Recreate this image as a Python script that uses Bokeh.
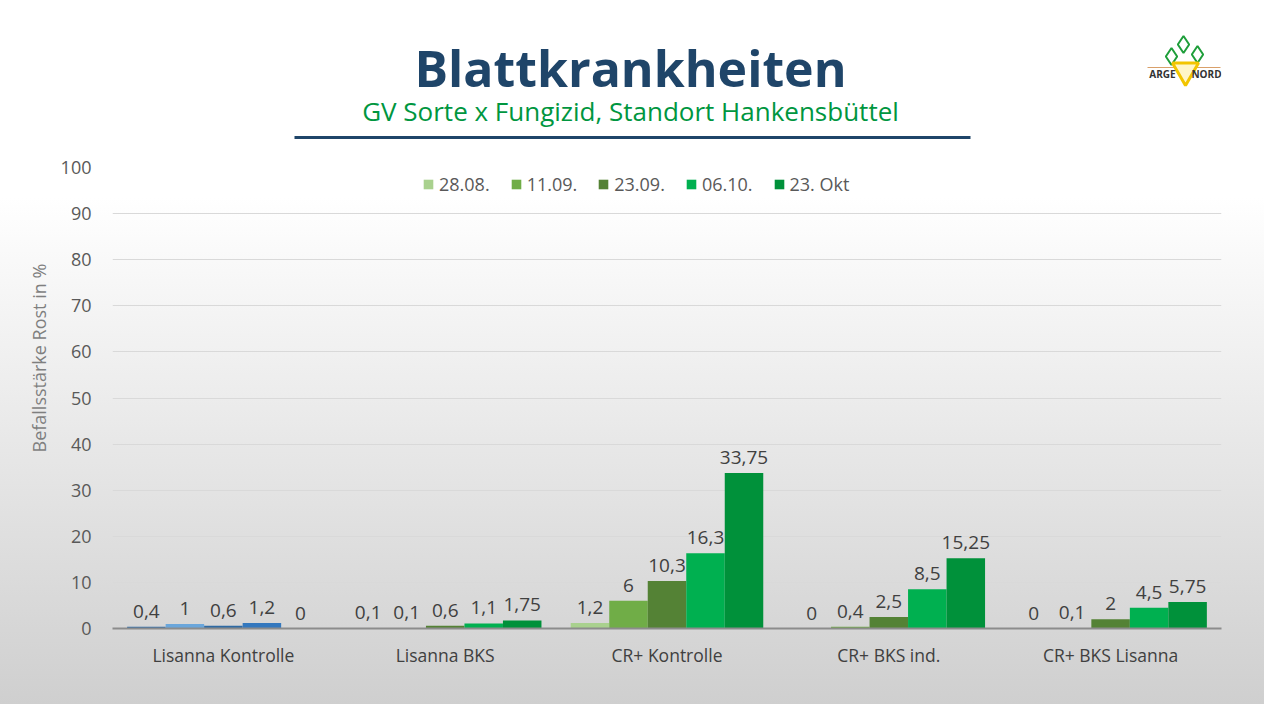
from bokeh.plotting import figure
from bokeh.layouts import column
from bokeh.models import (ColumnDataSource, FactorRange, Range1d, Legend, LegendItem,
                          SingleIntervalTicker, Title)
from bokeh.core.properties import value
from bokeh.transform import dodge
from bokeh.embed import file_html
from bokeh.resources import INLINE

# data
categories = ["Lisanna Kontrolle", "Lisanna BKS", "CR+ Kontrolle", "CR+ BKS ind.", "CR+ BKS Lisanna"]
dates = ["28.08.", "11.09.", "23.09.", "06.10.", "23. Okt"]
d_2808 = [0.4, 0.1, 1.2, 0, 0]
d_1109 = [1, 0.1, 6, 0.4, 0.1]
d_2309 = [0.6, 0.6, 10.3, 2.5, 2]
d_0610 = [1.2, 1.1, 16.3, 8.5, 4.5]
d_2310 = [0, 1.75, 33.75, 15.25, 5.75]
series = [d_2808, d_1109, d_2309, d_0610, d_2310]

title = "Blattkrankheiten"
subtitle = "GV Sorte x Fungizid, Standort Hankensbüttel"
y_label = "Befallsstärke Rost in %"

greens = ["#A9D18E", "#70AD47", "#548235", "#00B050", "#00913A"]
blues = ["#2E6DAA", "#6AA6DB", "#2F6AA3", "#3478BE", "#3478BE"]

FONT = "Open Sans"
W, H = 1264, 704
HEAD = 150
BL, BR = 112, 43   # left / right border of the plot frame


def clear(fig):
    fig.border_fill_alpha = 0
    fig.background_fill_alpha = 0
    fig.outline_line_color = None


# header: title, subtitle, rule and logo (coordinates = pixels from top-left of page)
head = figure(width=W, height=HEAD, x_range=Range1d(BL, W - BR), y_range=Range1d(HEAD, 0),
              min_border_left=BL, min_border_right=BR, min_border_top=0, min_border_bottom=0,
              output_backend="svg", toolbar_location=None)
clear(head)
head.axis.visible = False
head.grid.visible = False
head.text(x=[630], y=[67], text=[title], text_align="center", text_baseline="middle",
          text_font=value(FONT), text_font_size="50px", text_font_style="bold",
          text_color="#1F4569")
head.text(x=[630], y=[110], text=[subtitle], text_align="center", text_baseline="middle",
          text_font=value(FONT), text_font_size="26px", text_color="#00963F")
head.segment(x0=[294], y0=[137], x1=[970], y1=[137], line_color="#1F4569", line_width=3)
# logo
head.segment(x0=[1147], y0=[67], x1=[1220], y1=[67], line_color="#D9A06A", line_width=1)
head.scatter(x=[1171, 1183, 1197], y=[56, 44, 54], marker="diamond", size=17,
             fill_color=None, line_color="#1E9E3A", line_width=2)
head.scatter(x=[1185], y=[70], marker="inverted_triangle", size=26,
             fill_color="#FFF6C8", line_color="#F2C500", line_width=3)
head.text(x=[1162, 1206], y=[73, 73], text=["ARGE", "NORD"], text_align="center",
          text_baseline="middle", text_font=value(FONT), text_font_size="10px",
          text_font_style="bold", text_color="#333333")

# main chart
p = figure(x_range=FactorRange(factors=categories), y_range=Range1d(0, 100),
           width=W, height=H - HEAD, min_border_left=BL, min_border_right=BR,
           min_border_top=17, min_border_bottom=76,
           output_backend="svg", toolbar_location=None)
clear(p)

p.yaxis.ticker = SingleIntervalTicker(interval=10)
p.yaxis.axis_line_color = None
p.yaxis.major_tick_line_color = None
p.yaxis.minor_tick_line_color = None
p.yaxis.major_label_text_font = FONT
p.yaxis.major_label_text_font_size = "18px"
p.yaxis.major_label_text_color = "#595959"
p.yaxis.major_label_standoff = 15

p.add_layout(Title(text=y_label, align="left", offset=176, standoff=14,
                   text_font=FONT, text_font_style="normal", text_font_size="18px",
                   text_color="#7F7F7F"), "left")

p.xaxis.axis_line_color = "#8C8C8C"
p.xaxis.axis_line_width = 2
p.xaxis.major_tick_line_color = None
p.xaxis.minor_tick_line_color = None
p.xaxis.major_label_text_font = FONT
p.xaxis.major_label_text_font_size = "17.5px"
p.xaxis.major_label_text_color = "#404040"
p.xaxis.major_label_standoff = 8

p.xgrid.grid_line_color = None
p.ygrid.grid_line_color = "#D9D9D9"

bw = 0.1736
items = []
for j, (name, vals) in enumerate(zip(dates, series)):
    colors = [blues[j]] + [greens[j]] * (len(categories) - 1)
    labels = [f"{v:g}".replace(".", ",") for v in vals]
    src = ColumnDataSource(dict(cat=categories, val=vals, color=colors, lab=labels))
    off = (j - 2) * bw
    r = p.vbar(x=dodge("cat", off, range=p.x_range), top="val", width=bw,
               fill_color="color", line_color=None, source=src)
    p.text(x=dodge("cat", off, range=p.x_range), y="val", text="lab", source=src,
           text_align="center", text_baseline="bottom", y_offset=-9,
           text_font=value(FONT), text_font_size="19px", text_color="#404040")
    items.append(LegendItem(label=name, renderers=[r], index=1))

legend = Legend(items=items, location=(308, 430), orientation="horizontal",
                background_fill_alpha=0, border_line_alpha=0,
                label_text_font=FONT, label_text_font_size="18px", label_text_color="#595959",
                glyph_width=12, glyph_height=12, spacing=20, label_standoff=5,
                margin=0, padding=2)
p.add_layout(legend, "center")

layout = column(head, p, spacing=0,
                styles={"background": "linear-gradient(to bottom, #ffffff 0%, #ffffff 28%, #cfcfcf 100%)"})

open("out.html", "w").write(file_html(layout, INLINE))
